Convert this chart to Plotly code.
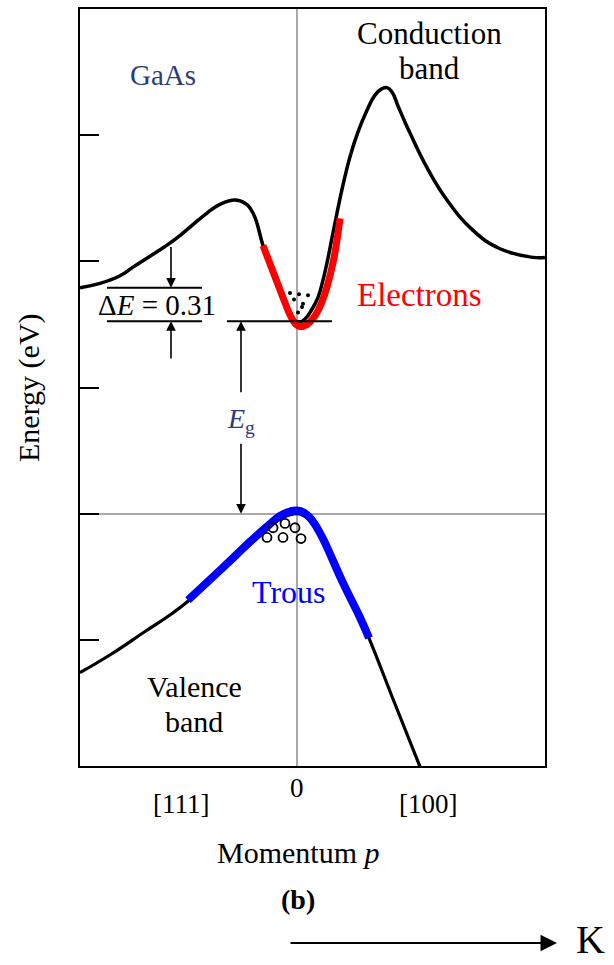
import plotly.graph_objects as go

# --- band-structure data (momentum in arbitrary units, energy in eV above the valence-band top) ---
E_C = 1.78          # conduction-band minimum (Gamma valley)
DELTA_E = 0.31      # separation of the L valley above the Gamma minimum

cond_p = [-2.17, -1.97, -1.77, -1.64, -1.47, -1.32, -1.20, -1.07, -0.90, -0.77,
          -0.62, -0.52, -0.44, -0.34, -0.25, -0.17, -0.09, -0.03, 0.02, 0.08,
          0.15, 0.21, 0.26, 0.30, 0.35, 0.40, 0.46, 0.53, 0.61, 0.70,
          0.78, 0.85, 0.90, 0.95, 1.01, 1.08, 1.13, 1.30, 1.50, 1.76,
          2.03, 2.36, 2.48]
cond_E = [2.09, 2.13, 2.20, 2.28, 2.38, 2.47, 2.55, 2.65, 2.78, 2.86,
          2.90, 2.87, 2.78, 2.48, 2.23, 2.04, 1.87, 1.79, 1.77, 1.80,
          1.89, 2.00, 2.16, 2.32, 2.55, 2.78, 3.04, 3.30, 3.53, 3.73,
          3.87, 3.93, 3.94, 3.90, 3.77, 3.62, 3.52, 3.20, 2.90, 2.62,
          2.45, 2.37, 2.37]

elec_p = [-0.34, -0.27, -0.19, -0.12, -0.06, -0.01, 0.03, 0.10, 0.18, 0.25, 0.31, 0.36, 0.40, 0.43]
elec_E = [2.48, 2.31, 2.12, 1.95, 1.82, 1.75, 1.73, 1.75, 1.83, 1.96, 2.13, 2.32, 2.53, 2.73]

val_p = [-2.17, -1.86, -1.52, -1.26, -1.09, -0.87, -0.64, -0.47, -0.30, -0.17, -0.07,
         0.0, 0.07, 0.15, 0.23, 0.28, 0.46, 0.63, 0.72, 0.98, 1.23]
val_E = [-1.47, -1.30, -1.09, -0.93, -0.81, -0.62, -0.42, -0.27, -0.14, -0.05, -0.01,
         0.0, -0.02, -0.08, -0.20, -0.29, -0.65, -0.96, -1.15, -1.76, -2.34]

hole_band_p = [-1.09, -0.87, -0.64, -0.47, -0.30, -0.17, -0.07, 0.0, 0.07, 0.15, 0.23, 0.28, 0.46, 0.63, 0.72]
hole_band_E = [-0.80, -0.61, -0.41, -0.26, -0.12, -0.02, 0.02, 0.03, 0.01, -0.06, -0.18, -0.27, -0.64, -0.96, -1.15]

electron_dot_p = [-0.07, 0.02, 0.11, -0.03, 0.06, 0.05, 0.01]
electron_dot_E = [2.04, 2.03, 2.02, 1.98, 1.94, 1.91, 1.86]

hole_p = [-0.24, -0.12, -0.02, -0.30, -0.14, 0.04]
hole_E = [-0.13, -0.09, -0.13, -0.22, -0.22, -0.23]

direction_labels = ["[111]", "0", "[100]"]
direction_pos = [-1.16, 0.0, 1.31]

SERIF = "Liberation Serif, Times New Roman, serif"
NAVY = "#2b3b80"

fig = go.Figure()

smooth = dict(shape="spline", smoothing=1.3)
fig.add_trace(go.Scatter(x=cond_p, y=cond_E, mode="lines",
                         line=dict(color="black", width=3.5, **smooth)))
fig.add_trace(go.Scatter(x=val_p, y=val_E, mode="lines",
                         line=dict(color="black", width=3.2, **smooth)))
fig.add_trace(go.Scatter(x=elec_p, y=elec_E, mode="lines",
                         line=dict(color="#ff0000", width=7, **smooth)))
fig.add_trace(go.Scatter(x=hole_band_p, y=hole_band_E, mode="lines",
                         line=dict(color="#0000ff", width=8, **smooth)))
fig.add_trace(go.Scatter(x=electron_dot_p, y=electron_dot_E, mode="markers",
                         marker=dict(color="black", size=4)))
fig.add_trace(go.Scatter(x=hole_p, y=hole_E, mode="markers",
                         marker=dict(symbol="circle-open", color="black", size=9,
                                     line=dict(width=1.8, color="black"))))

# energy-level reference lines for Delta E and the band gap
levels = [(-1.90, -0.95, E_C + DELTA_E), (-1.90, -0.95, E_C), (-0.70, 0.35, E_C)]
for x0, x1, e in levels:
    fig.add_shape(type="line", x0=x0, x1=x1, y0=e, y1=e, xref="x", yref="y",
                  line=dict(color="black", width=2))

arrow_style = dict(showarrow=True, arrowhead=2, arrowsize=1.2, arrowwidth=1.6,
                   arrowcolor="black", axref="x", ayref="y", text="")
ann = [
    dict(x=-1.26, y=E_C + DELTA_E, ax=-1.26, ay=2.48, **arrow_style),
    dict(x=-1.26, y=E_C, ax=-1.26, ay=1.42, **arrow_style),
    dict(x=-0.56, y=E_C, ax=-0.56, ay=1.11, **arrow_style),
    dict(x=-0.56, y=0.0, ax=-0.56, ay=0.66, **arrow_style),
]

def label(text, x, y, size, color="black", xref="x", yref="y", xanchor="center", **kw):
    return dict(text=text, x=x, y=y, xref=xref, yref=yref, showarrow=False,
                font=dict(family=SERIF, size=size, color=color),
                xanchor=xanchor, yanchor="middle", **kw)

ann += [
    label("GaAs", -1.34, 4.06, 29, NAVY),
    label("Conduction", 1.32, 4.44, 31),
    label("band", 1.32, 4.12, 31),
    label("Electrons", 1.22, 2.02, 33, "#ff0000"),
    label("Trous", -0.08, -0.72, 32, "#0000ff"),
    label("Valence", -1.03, -1.60, 30),
    label("band", -1.03, -1.92, 30),
    label("Δ<i>E</i> = 0.31", -1.40, 1.93, 29),
    label("<i>E</i><sub>g</sub>", -0.56, 0.86, 28, NAVY),
]

# momentum-direction labels under the axis
for txt, pos in zip(direction_labels, direction_pos):
    ann.append(label(txt, pos, 1 - (788 if txt == "0" else 804) / 965, 27, yref="paper"))

ann += [
    label("Momentum <i>p</i>", 298 / 614, 1 - 852 / 965, 30, xref="paper", yref="paper"),
    label("<b>(b)</b>", 298 / 614, 1 - 899 / 965, 28, xref="paper", yref="paper"),
    label("Energy (eV)", 29 / 614, 1 - 388 / 965, 30, xref="paper", yref="paper", textangle=-90),
    label("K", 575 / 614, 1 - 939 / 965, 40, xref="paper", yref="paper", xanchor="left", borderpad=0),
    dict(x=557 / 614, y=1 - 943 / 965, xref="paper", yref="paper", ax=-268, ay=0,
         showarrow=True, arrowhead=2, arrowsize=1.65, arrowwidth=2, arrowcolor="black", text=""),
]

fig.update_layout(
    width=614, height=965, autosize=False,
    margin=dict(l=0, r=0, t=0, b=0),
    paper_bgcolor="white", plot_bgcolor="white",
    showlegend=False,
    annotations=ann,
    xaxis=dict(domain=[80 / 614, 545 / 614], range=[-2.17, 2.48],
               showgrid=False, showticklabels=False, ticks="",
               showline=True, mirror=True, linecolor="black", linewidth=2,
               zeroline=True, zerolinecolor="#a8a8a8", zerolinewidth=1.8),
    yaxis=dict(domain=[1 - 766 / 965, 1 - 9 / 965], range=[-7 / 3, 14 / 3],
               showgrid=False, showticklabels=False,
               tickmode="linear", tick0=0, dtick=7 / 6,
               ticks="inside", ticklen=19, tickwidth=2, tickcolor="black",
               showline=True, mirror=True, linecolor="black", linewidth=2,
               zeroline=True, zerolinecolor="#a8a8a8", zerolinewidth=1.8),
)

fig.write_html("out.html")
